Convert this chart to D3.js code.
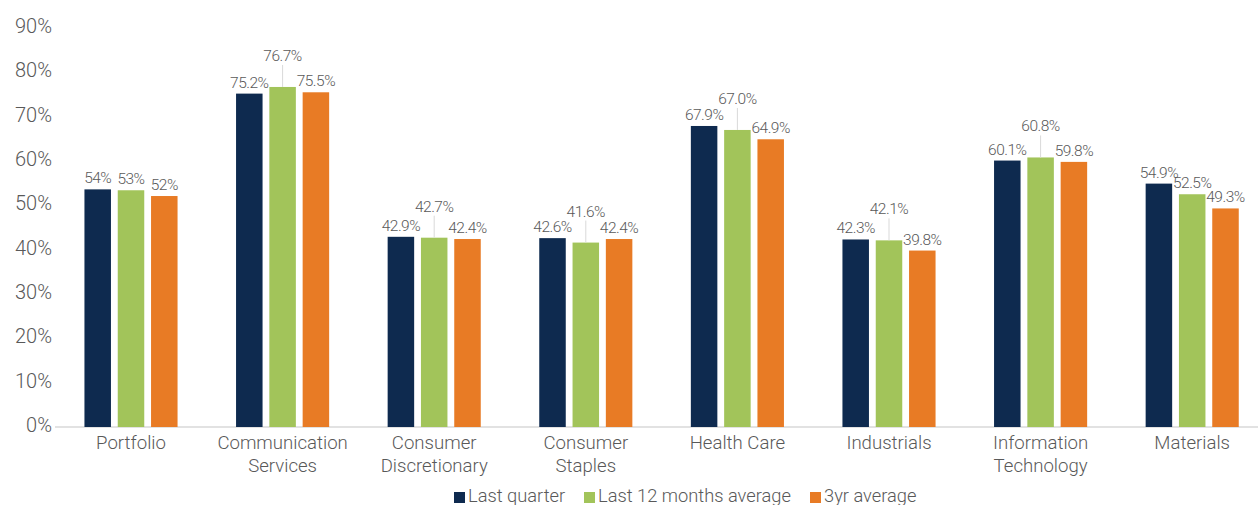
<!DOCTYPE html>
<html>
<head>
<meta charset="utf-8">
<script src="https://cdn.jsdelivr.net/npm/d3@7"></script>
<style>
  body { margin: 0; background: #fff; }
  text { font-family: Roboto, "Liberation Sans", sans-serif; font-weight: 300; fill: #595959; }
</style>
</head>
<body>
<div id="canvas"></div>
<script>
const width = 1258;
const height = 505;

// data
const categories = ["Portfolio", "Communication Services", "Consumer Discretionary", "Consumer Staples",
    "Health Care", "Industrials", "Information Technology", "Materials"];
const catLines = [["Portfolio"], ["Communication", "Services"], ["Consumer", "Discretionary"], ["Consumer", "Staples"],
    ["Health Care"], ["Industrials"], ["Information", "Technology"], ["Materials"]];
const series = ["Last quarter", "Last 12 months average", "3yr average"];
const lastQuarter = [53.6, 75.2, 42.9, 42.6, 67.9, 42.3, 60.1, 54.9];
const last12 = [53.4, 76.7, 42.7, 41.6, 67.0, 42.1, 60.8, 52.5];
const threeYr = [52.1, 75.5, 42.4, 42.4, 64.9, 39.8, 59.8, 49.3];
const labelsQ = ["54%", "75.2%", "42.9%", "42.6%", "67.9%", "42.3%", "60.1%", "54.9%"];
const labels12 = ["53%", "76.7%", "42.7%", "41.6%", "67.0%", "42.1%", "60.8%", "52.5%"];
const labels3 = ["52%", "75.5%", "42.4%", "42.4%", "64.9%", "39.8%", "59.8%", "49.3%"];
const liftMiddle = [false, true, true, true, true, true, true, false];
const yTicks = [0, 10, 20, 30, 40, 50, 60, 70, 80, 90];
const colors = ["#0e2a4f", "#a2c45a", "#e87b25"];

const values = [lastQuarter, last12, threeYr];
const labels = [labelsQ, labels12, labels3];

const svg = d3.select("#canvas")
    .append("svg")
    .attr("width", width)
    .attr("height", height);

const y = d3.scaleLinear().domain([0, 90]).range([427, 28]);

const x0 = d3.scaleBand().domain(categories).range([55.2, 1268]).padding(0);
const x1 = d3.scaleBand().domain(series).range([0, 93.1]).paddingInner(0.204).paddingOuter(0);
const groupShift = (x0.bandwidth() - 93.1) / 2;

// y tick labels
svg.append("g")
    .selectAll("text")
    .data(yTicks)
    .join("text")
    .attr("x", 52)
    .attr("y", d => y(d) - 2)
    .attr("dy", "0.35em")
    .attr("text-anchor", "end")
    .attr("font-size", 20)
    .text(d => d + "%");

// baseline
svg.append("line")
    .attr("x1", 55)
    .attr("x2", width)
    .attr("y1", y(0))
    .attr("y2", y(0))
    .attr("stroke", "#d9d9d9")
    .attr("stroke-width", 1.5);

// bars
const groups = svg.append("g")
    .selectAll("g")
    .data(categories)
    .join("g")
    .attr("transform", d => `translate(${x0(d) + groupShift},0)`);

groups.each(function(cat, ci) {
    const g = d3.select(this);
    series.forEach((s, si) => {
        const v = values[si][ci];
        const bx = x1(s);
        const bw = x1.bandwidth();
        g.append("rect")
            .attr("x", bx)
            .attr("y", y(v))
            .attr("width", bw)
            .attr("height", y(0) - y(v))
            .attr("fill", colors[si]);

        const lifted = si === 1 && liftMiddle[ci];
        const ly = lifted ? y(v) - 26 : y(v) - 6;
        if (lifted) {
            g.append("line")
                .attr("x1", bx + bw / 2)
                .attr("x2", bx + bw / 2)
                .attr("y1", ly + 4)
                .attr("y2", y(v))
                .attr("stroke", "#d9d9d9")
                .attr("stroke-width", 1);
        }
        g.append("text")
            .attr("x", bx + bw / 2)
            .attr("y", ly)
            .attr("text-anchor", "middle")
            .attr("font-size", 15.5)
            .attr("letter-spacing", "-0.5px")
            .text(labels[si][ci]);
    });
});

// category labels
svg.append("g")
    .selectAll("text")
    .data(categories)
    .join("text")
    .attr("text-anchor", "middle")
    .attr("font-size", 18.6)
    .attr("transform", d => `translate(${x0(d) + x0.bandwidth() / 2},449)`)
    .each(function(d, i) {
        d3.select(this).selectAll("tspan")
            .data(catLines[i])
            .join("tspan")
            .attr("x", 0)
            .attr("y", (t, j) => j * 23)
            .text(t => t);
    });

// legend
const legendX = [454, 584, 810];
const legend = svg.append("g");
series.forEach((s, i) => {
    legend.append("rect")
        .attr("x", legendX[i])
        .attr("y", 492)
        .attr("width", 11)
        .attr("height", 11)
        .attr("fill", colors[i]);
    legend.append("text")
        .attr("x", legendX[i] + 14)
        .attr("y", 502)
        .attr("font-size", 18.3)
        .text(s);
});
</script>
</body>
</html>
